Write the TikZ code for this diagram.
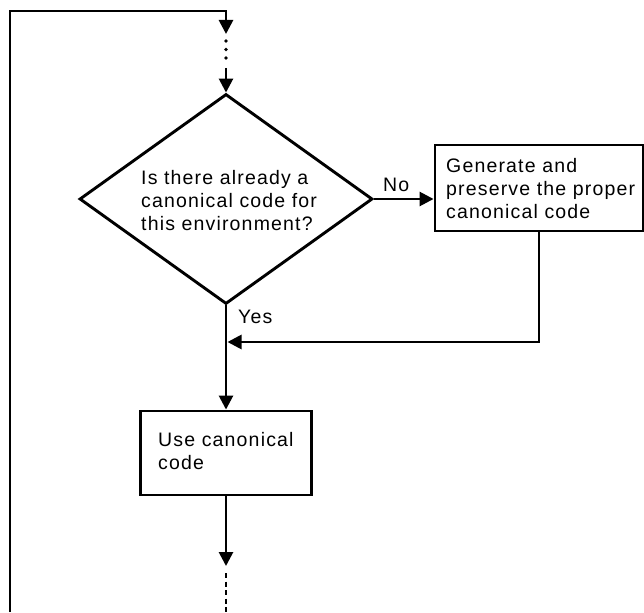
\documentclass[tikz,border=0pt]{standalone}
\usepackage{fontspec}
\setmainfont{Liberation Sans}[LetterSpace=6]
\usetikzlibrary{arrows.meta,shapes.geometric}
\begin{document}
\begin{tikzpicture}[x=1pt,y=-1pt,
  every node/.style={font=\fontsize{19.5}{23}\selectfont},
  flow/.style={line width=2.7pt,-{Triangle[width=14pt,length=14pt]}},
  dotline/.style={line width=3.8pt,line cap=round,dash pattern=on 0pt off 8.5pt},
  dashline/.style={line width=2.8pt,dash pattern=on 5pt off 3.5pt},
  boxshape/.style={draw,line width=2.9pt,rectangle,inner sep=0pt},
  decision/.style={draw,line width=2.9pt,diamond,inner sep=0pt,aspect=1.4},
  txt/.style={align=left,inner sep=0pt,anchor=north west},
  lbl/.style={inner sep=0pt,anchor=base west}]
\useasboundingbox (0,0) rectangle (644,612);

% shapes
\node[decision,minimum width=293pt,minimum height=210pt] (q) at (226,199) {};
\node[txt] (qt) at (141,170) {Is there already a\\canonical code for\\this environment?};

\node[boxshape,minimum width=208pt,minimum height=86pt] (gen) at (539,188) {};
\node[txt] (gent) at (446,158) {Generate and\\preserve the proper\\canonical code};

\node[boxshape,minimum width=171pt,minimum height=84pt] (use) at (226,453) {};
\node[txt] (uset) at (158,432) {Use canonical\\code};

\node[lbl] (no) at (383,192) {No};
\node[lbl] (yes) at (238,323) {Yes};

% coordinates
\coordinate (loopstart) at (10,612);
\coordinate (topc) at (226,11);
\coordinate (a1) at (226,34);
\coordinate (d1) at (226,41);
\coordinate (d2) at (226,58);
\coordinate (a2s) at (226,68);
\coordinate (ret) at (227.5,342);
\coordinate (a3) at (226,566);
\coordinate (b1) at (226,573);
\coordinate (b2) at (226,612);

% connectors
\draw[flow] (loopstart) |- (topc) -- (a1);
\draw[dotline] (d1) -- (d2);
\draw[flow] (a2s) -- (q.north);
\draw[flow] (q.east) -- (q.east -| gen.west);
\draw[flow] (gen.south) |- (ret);
\draw[flow] (q.south) -- (use.north);
\draw[flow] (use.south) -- (a3);
\draw[dashline] (b1) -- (b2);
\end{tikzpicture}
\end{document}
